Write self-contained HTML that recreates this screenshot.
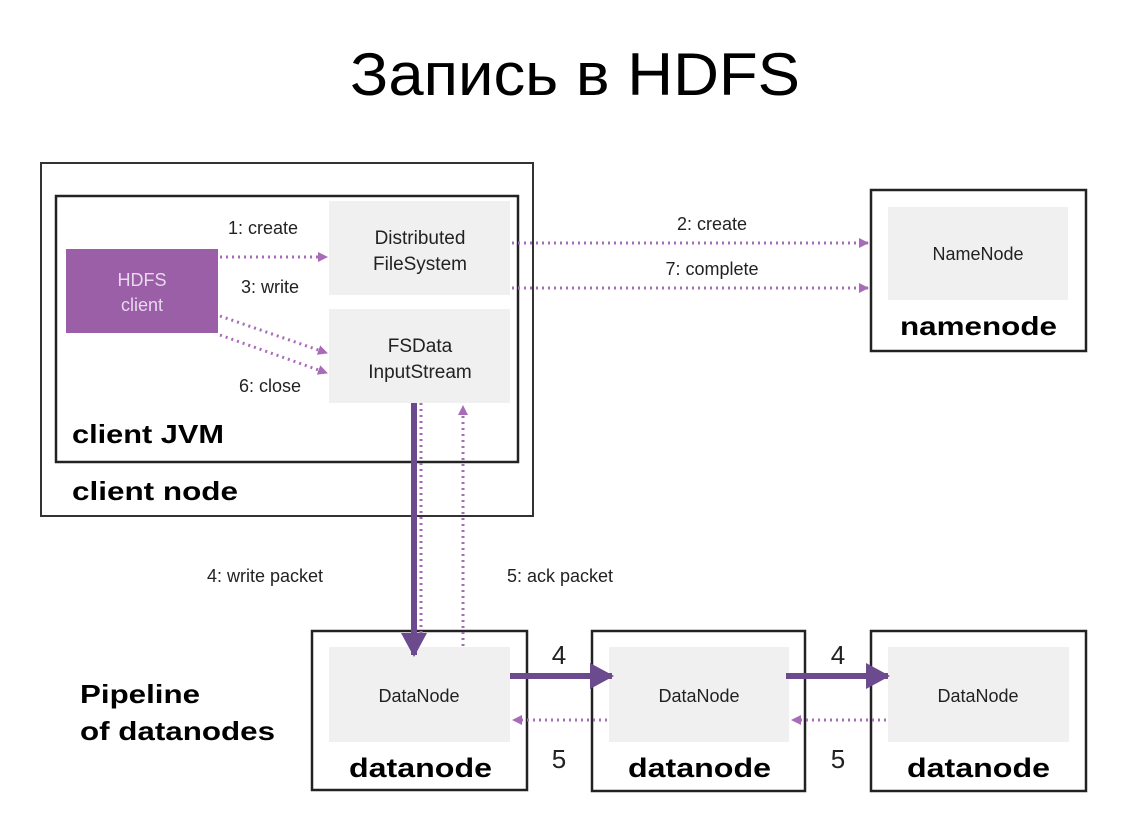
<!DOCTYPE html>
<html><head><meta charset="utf-8"><style>
html,body{margin:0;padding:0;background:#fff;}
svg{display:block;font-family:"Liberation Sans","DejaVu Sans",sans-serif;}
</style></head><body>
<svg width="1139" height="834" viewBox="0 0 1139 834" xmlns="http://www.w3.org/2000/svg">
<defs>
<marker id="pa" markerWidth="10" markerHeight="10" refX="9" refY="5" orient="auto" markerUnits="userSpaceOnUse"><path d="M0,0 L10,5 L0,10 z" fill="#a86bb8"/></marker>
<marker id="da" markerWidth="24" markerHeight="26" refX="22" refY="13" orient="auto" markerUnits="userSpaceOnUse"><path d="M0,0 L24,13 L0,26 z" fill="#6b4a8e"/></marker>
</defs>
<text x="350" y="95" font-size="60" textLength="450" lengthAdjust="spacingAndGlyphs" fill="#000">Запись в HDFS</text>

<rect x="41" y="163" width="492" height="353" fill="#fff" stroke="#333" stroke-width="2"/>
<rect x="56" y="196" width="462" height="266" fill="#fff" stroke="#222" stroke-width="2.5"/>
<rect x="66" y="249" width="152" height="84" fill="#9b5fa8"/>
<text x="142" y="286" font-size="18" fill="#e8d8ee" text-anchor="middle">HDFS</text>
<text x="142" y="311" font-size="18" fill="#e8d8ee" text-anchor="middle">client</text>
<rect x="329" y="201" width="181" height="94" fill="#f0f0f0"/>
<text x="420" y="244" font-size="19" fill="#222" text-anchor="middle">Distributed</text>
<text x="420" y="270" font-size="19" fill="#222" text-anchor="middle">FileSystem</text>
<rect x="329" y="309" width="181" height="94" fill="#f0f0f0"/>
<text x="420" y="352" font-size="19" fill="#222" text-anchor="middle">FSData</text>
<text x="420" y="378" font-size="19" fill="#222" text-anchor="middle">InputStream</text>
<text x="263" y="234" font-size="18" fill="#222" text-anchor="middle">1: create</text>
<text x="270" y="293" font-size="18" fill="#222" text-anchor="middle">3: write</text>
<text x="270" y="392" font-size="18" fill="#222" text-anchor="middle">6: close</text>
<text x="72" y="443" font-size="26" font-weight="bold" fill="#000" textLength="152" lengthAdjust="spacingAndGlyphs">client JVM</text>
<text x="72" y="500" font-size="26" font-weight="bold" fill="#000" textLength="166" lengthAdjust="spacingAndGlyphs">client node</text>

<rect x="871" y="190" width="215" height="161" fill="#fff" stroke="#222" stroke-width="2.5"/>
<rect x="888" y="207" width="180" height="93" fill="#f0f0f0"/>
<text x="978" y="260" font-size="18" fill="#222" text-anchor="middle">NameNode</text>
<text x="900" y="335" font-size="26" font-weight="bold" fill="#000" textLength="157" lengthAdjust="spacingAndGlyphs">namenode</text>
<text x="712" y="230" font-size="18" fill="#222" text-anchor="middle">2: create</text>
<text x="712" y="275" font-size="18" fill="#222" text-anchor="middle">7: complete</text>

<text x="265" y="582" font-size="18" fill="#222" text-anchor="middle">4: write packet</text>
<text x="560" y="582" font-size="18" fill="#222" text-anchor="middle">5: ack packet</text>

<text x="80" y="703" font-size="26" font-weight="bold" fill="#000" textLength="120" lengthAdjust="spacingAndGlyphs">Pipeline</text>
<text x="80" y="740" font-size="26" font-weight="bold" fill="#000" textLength="195" lengthAdjust="spacingAndGlyphs">of datanodes</text>

<g>
<rect x="312" y="631" width="215" height="159" fill="#fff" stroke="#222" stroke-width="2.5"/>
<rect x="329" y="647" width="181" height="95" fill="#f0f0f0"/>
<text x="419" y="702" font-size="18" fill="#222" text-anchor="middle">DataNode</text>
<text x="349" y="777" font-size="27" font-weight="bold" fill="#000" textLength="143" lengthAdjust="spacingAndGlyphs">datanode</text>
<rect x="592" y="631" width="213" height="160" fill="#fff" stroke="#222" stroke-width="2.5"/>
<rect x="609" y="647" width="180" height="95" fill="#f0f0f0"/>
<text x="699" y="702" font-size="18" fill="#222" text-anchor="middle">DataNode</text>
<text x="628" y="777" font-size="27" font-weight="bold" fill="#000" textLength="143" lengthAdjust="spacingAndGlyphs">datanode</text>
<rect x="871" y="631" width="215" height="160" fill="#fff" stroke="#222" stroke-width="2.5"/>
<rect x="888" y="647" width="181" height="95" fill="#f0f0f0"/>
<text x="978" y="702" font-size="18" fill="#222" text-anchor="middle">DataNode</text>
<text x="907" y="777" font-size="27" font-weight="bold" fill="#000" textLength="143" lengthAdjust="spacingAndGlyphs">datanode</text>
</g>

<g stroke="#a86bb8" stroke-width="3" stroke-dasharray="2 4" fill="none">
<line x1="220" y1="257" x2="327" y2="257" marker-end="url(#pa)"/>
<line x1="220" y1="316" x2="327" y2="353" marker-end="url(#pa)"/>
<line x1="220" y1="335" x2="327" y2="373" marker-end="url(#pa)"/>
<line x1="512" y1="243" x2="868" y2="243" marker-end="url(#pa)"/>
<line x1="512" y1="288" x2="868" y2="288" marker-end="url(#pa)"/>
<line x1="421" y1="403" x2="421" y2="640"/>
<line x1="463" y1="646" x2="463" y2="406" marker-end="url(#pa)"/>
<line x1="607" y1="720" x2="513" y2="720" marker-end="url(#pa)"/>
<line x1="886" y1="720" x2="792" y2="720" marker-end="url(#pa)"/>
</g>

<g stroke="#6b4a8e" stroke-width="6" fill="none">
<line x1="414" y1="403" x2="414" y2="655" marker-end="url(#da)"/>
<line x1="510" y1="676" x2="612" y2="676" marker-end="url(#da)"/>
<line x1="786" y1="676" x2="888" y2="676" marker-end="url(#da)"/>
</g>
<text x="559" y="664" font-size="26" fill="#222" text-anchor="middle">4</text>
<text x="838" y="664" font-size="26" fill="#222" text-anchor="middle">4</text>
<text x="559" y="768" font-size="26" fill="#222" text-anchor="middle">5</text>
<text x="838" y="768" font-size="26" fill="#222" text-anchor="middle">5</text>
</svg>
</body></html>
